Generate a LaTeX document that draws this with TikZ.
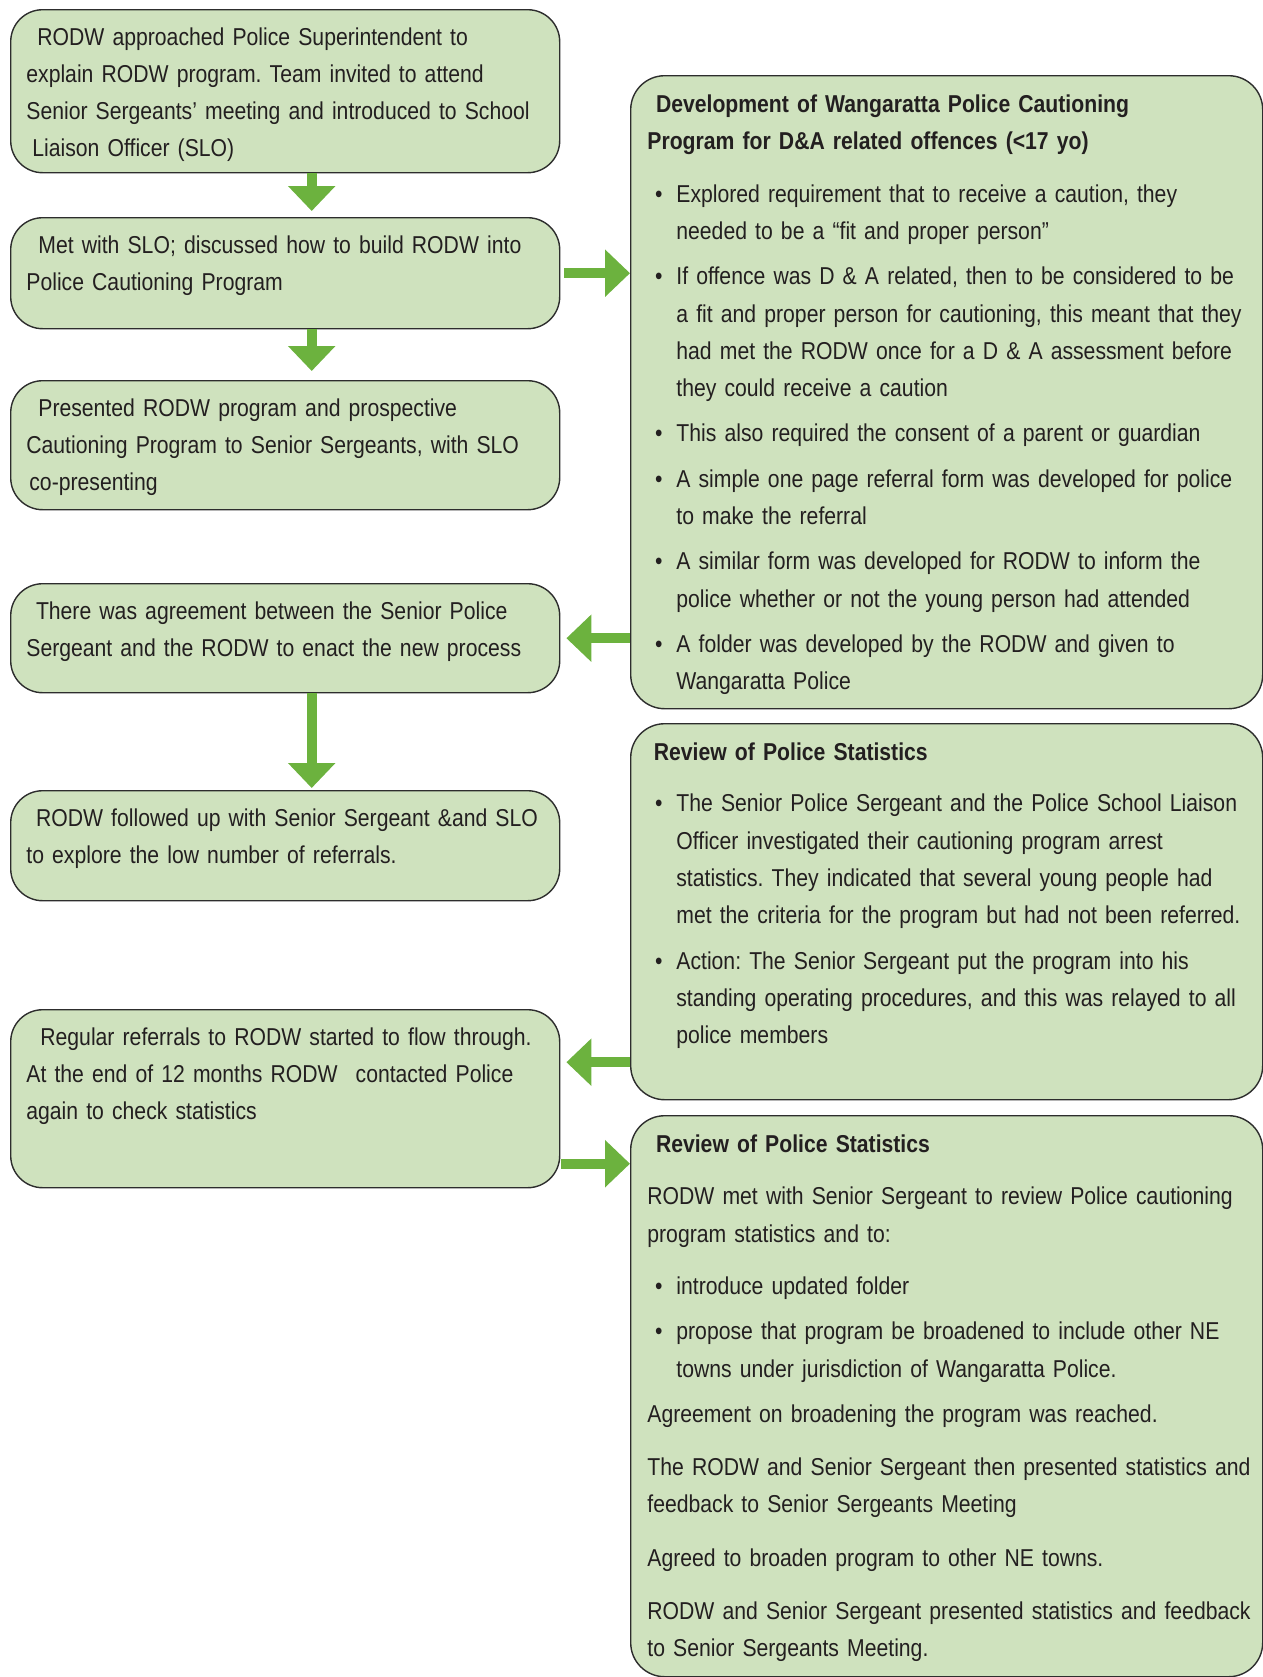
\documentclass[tikz,border=0pt]{standalone}
\usepackage{fontspec}
\setmainfont{Liberation Sans}[FakeStretch=0.868]
\usetikzlibrary{arrows.meta}
\definecolor{boxfill}{RGB}{207,226,190}
\definecolor{arrowgreen}{RGB}{108,178,62}
\definecolor{edgegray}{RGB}{45,45,45}
\definecolor{inkgray}{RGB}{35,31,32}
\frenchspacing
\newcommand{\pitem}[2][4pt]{\par\vspace{#1}\hangindent=14.5pt\hangafter=1\noindent\hspace*{3.8pt}\makebox[10.7pt][l]{\textbullet}#2\par}
\newcommand{\ppara}[2][8pt]{\par\vspace{#1}\noindent #2\par}
\begin{document}
\begin{tikzpicture}[x=0.5pt,y=-0.5pt]
    \tikzset{stage/.style = {draw=edgegray, line width=0.7pt, fill=boxfill, rounded corners=16pt, anchor=north west, minimum width=274.5pt, inner sep=0pt}}
    \tikzset{info/.style = {stage, rounded corners=17pt, minimum width=316pt}}
    \tikzset{words/.style = {anchor=base west, inner sep=0pt, align=left, text=inkgray, font=\fontsize{12.2}{18.65}\selectfont}}
    \tikzset{flow/.style = {draw=arrowgreen, line width=5pt, -{Triangle[width=23pt,length=12.5pt]}}}
    \useasboundingbox (0,0) rectangle (1263,1677);
    \node[stage, minimum height=81.5pt] (b1) at (10,9) {};
    \node[stage, minimum height=55.5pt] (b2) at (10,217) {};
    \node[stage, minimum height=64.5pt] (b3) at (10,380) {};
    \node[stage, minimum height=54.5pt] (b4) at (10,583) {};
    \node[stage, minimum height=55pt] (b5) at (10,790) {};
    \node[stage, minimum height=89pt] (b6) at (10,1009) {};
    \node[info, minimum height=316.5pt] (bA) at (630,75) {};
    \node[info, minimum height=188pt] (bB) at (630,723) {};
    \node[info, minimum height=280.5pt] (bC) at (630,1115) {};
    \node[words, text width=275pt] (t1) at ([xshift=8pt,yshift=-18pt]b1.north west)
        {\hspace*{5.5pt}RODW approached Police Superintendent to\\
         explain RODW program. Team invited to attend\\
         Senior Sergeants' meeting and introduced to School\\
         \hspace*{3pt}Liaison Officer (SLO)};
    \node[words, text width=275pt] (t2) at ([xshift=8pt,yshift=-18pt]b2.north west)
        {\hspace*{6pt}Met with SLO; discussed how to build RODW into\\
         Police Cautioning Program};
    \node[words, text width=275pt] (t3) at ([xshift=8pt,yshift=-18pt]b3.north west)
        {\hspace*{6pt}Presented RODW program and prospective\\
         Cautioning Program to Senior Sergeants, with SLO\\
         \hspace*{1.5pt}co-presenting};
    \node[words, text width=275pt] (t4) at ([xshift=8pt,yshift=-18pt]b4.north west)
        {\hspace*{4.8pt}There was agreement between the Senior Police\\
         Sergeant and the RODW to enact the new process};
    \node[words, text width=275pt] (t5) at ([xshift=8pt,yshift=-18pt]b5.north west)
        {\hspace*{4.8pt}RODW followed up with Senior Sergeant \&and SLO\\
         to explore the low number of referrals.};
    \node[words, text width=275pt] (t6) at ([xshift=8pt,yshift=-18pt]b6.north west)
        {\hspace*{7pt}Regular referrals to RODW started to flow through.\\
         At the end of 12 months RODW\hspace{9pt}contacted Police\\
         again to check statistics};
    \node[words, text width=315pt] (tA) at ([xshift=8.5pt,yshift=-18.75pt]bA.north west)
        {{\bfseries\hspace*{4.3pt}Development of Wangaratta Police Cautioning\\
          Program for D\&A related offences (<17 yo)}
         \pitem[7.5pt]{Explored requirement that to receive a caution, they\newline needed to be a ``fit and proper person''}
         \pitem{If offence was D \& A related, then to be considered to be\newline a fit and proper person for cautioning, this meant that they\newline had met the RODW once for a D \& A assessment before\newline they could receive a caution}
         \pitem{This also required the consent of a parent or guardian}
         \pitem{A simple one page referral form was developed for police\newline to make the referral}
         \pitem{A similar form was developed for RODW to inform the\newline police whether or not the young person had attended}
         \pitem{A folder was developed by the RODW and given to\newline Wangaratta Police}};
    \node[words, text width=315pt] (tB) at ([xshift=8.5pt,yshift=-18.75pt]bB.north west)
        {{\bfseries\hspace*{3.2pt}Review of Police Statistics}
         \pitem[7pt]{The Senior Police Sergeant and the Police School Liaison\newline Officer investigated their cautioning program arrest\newline statistics. They indicated that several young people had\newline met the criteria for the program but had not been referred.}
         \pitem{Action: The Senior Sergeant put the program into his\newline standing operating procedures, and this was relayed to all\newline police members}};
    \node[words, text width=315pt] (tC) at ([xshift=8.5pt,yshift=-18.75pt]bC.north west)
        {{\bfseries\hspace*{4.3pt}Review of Police Statistics}
         \ppara[7.5pt]{RODW met with Senior Sergeant to review Police cautioning\newline program statistics and to:}
         \pitem[7.5pt]{introduce updated folder}
         \pitem{propose that program be broadened to include other NE\newline towns under jurisdiction of Wangaratta Police.}
         \ppara[4pt]{Agreement on broadening the program was reached.}
         \ppara{The RODW and Senior Sergeant then presented statistics and\newline feedback to Senior Sergeants Meeting}
         \ppara{Agreed to broaden program to other NE towns.}
         \ppara{RODW and Senior Sergeant presented statistics and feedback\newline to Senior Sergeants Meeting.}};
    \coordinate (l3) at ([xshift=3pt,yshift=18.25pt]b6.east);
    \coordinate (r4) at ([xshift=0.5pt,yshift=-32.5pt]b6.east);
    \draw[flow] ([xshift=13.25pt]b1.south) to ([xshift=13.25pt,yshift=3pt]b2.north);
    \draw[flow] ([xshift=13.25pt]b2.south) to ([xshift=13.25pt,yshift=4.5pt]b3.north);
    \draw[flow] ([xshift=13.25pt]b4.south) to ([xshift=13.25pt,yshift=1pt]b5.north);
    \draw[flow] ([xshift=2pt]b2.east) to (b2.east -| bA.west);
    \draw[flow] (b4.east -| bA.west) to ([xshift=3pt]b4.east);
    \draw[flow] (l3 -| bB.west) to (l3);
    \draw[flow] (r4) to (r4 -| bC.west);
\end{tikzpicture}
\end{document}
